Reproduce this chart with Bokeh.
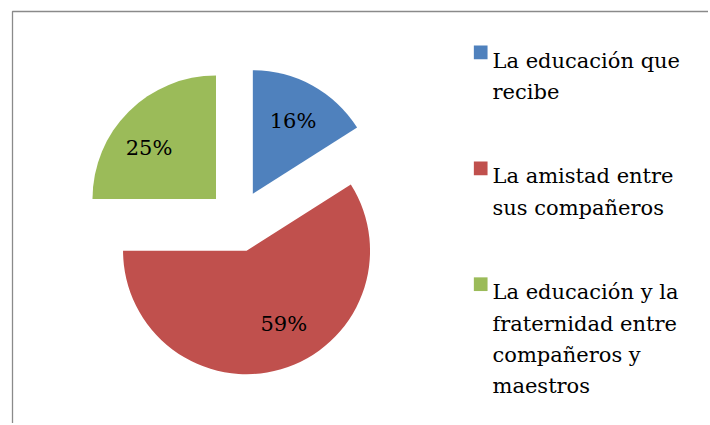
import math
from bokeh.plotting import figure
from bokeh.models import Range1d
from bokeh.core.properties import value
from bokeh.embed import file_html
from bokeh.resources import INLINE

# ---- data ----
categories = [
    "La educación  que\nrecibe",
    "La amistad  entre\nsus  compañeros",
    "La educación  y la\nfraternidad entre\ncompañeros  y\nmaestros",
]
percents = [16, 59, 25]
colors = ["#4F81BD", "#C0504D", "#9BBB59"]

# ---- layout (screen pixels) ----
W, H = 708, 423
PAGE_H = 425
def sy(y):  # screen y -> data y (upward)
    return PAGE_H - y

p = figure(width=W, height=H, output_backend="svg", toolbar_location=None,
           x_range=Range1d(0, W), y_range=Range1d(PAGE_H - H, PAGE_H),
           min_border=0)
p.axis.visible = False
p.grid.visible = False
p.outline_line_color = None
p.background_fill_color = "white"
p.border_fill_color = "white"

# frame
p.line([12, 12, W], [sy(H), sy(11), sy(11)], line_color="#8a8a8a", line_width=1.3)

# pie
cx, cy = 237.4, sy(220.4)
r = 123.5
explode = 31
total = sum(percents)
start = 90.0
font = "DejaVu Serif"
label_nudge = [(0, 0), (14, 7), (-8, -8)]
for i, (pct, col) in enumerate(zip(percents, colors)):
    span = 360.0 * pct / total
    a0 = start
    a1 = start - span
    mid = math.radians((a0 + a1) / 2)
    ox = cx + explode * math.cos(mid)
    oy = cy + explode * math.sin(mid)
    p.wedge(x=ox, y=oy, radius=r, start_angle=math.radians(a0), end_angle=math.radians(a1),
            direction="clock", fill_color=col, line_color=None)
    lx = ox + 0.675 * r * math.cos(mid) + label_nudge[i][0]
    ly = oy + 0.675 * r * math.sin(mid) + label_nudge[i][1]
    p.text(x=[lx], y=[ly], text=[f"{pct}%"], text_align="center", text_baseline="middle",
           text_font=value(font), text_font_size="21px", text_color="black")
    start = a1

# legend
lx0 = 492
for i, (lab, col) in enumerate(zip(categories, colors)):
    base = 60 + i * 115.9
    p.rect(x=[480.2], y=[sy(base - 8.1)], width=13.7, height=13.7, fill_color=col, line_color=None)
    for k, line in enumerate(lab.split("\n")):
        p.text(x=[lx0], y=[sy(base + k * 31.3)], text=[line], text_align="left",
               text_baseline="alphabetic", text_font=value(font), text_font_size="21px",
               text_color="black")

open("out.html", "w").write(file_html(p, INLINE))
